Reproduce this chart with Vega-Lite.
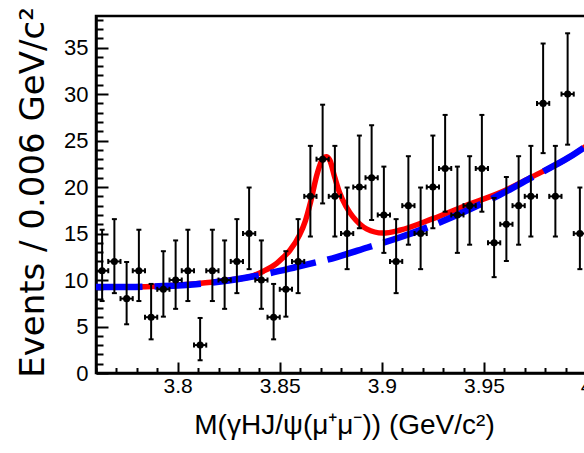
{
  "$schema": "https://vega.github.io/schema/vega-lite/v6.json",
  "width": 490,
  "height": 357,
  "autosize": "none",
  "padding": {"left": 96, "top": 16, "right": -2, "bottom": 80},
  "background": "white",
  "config": {"view": {"stroke": "black", "strokeWidth": 2.5}, "axis": {"grid": false}},
  "datasets": {
    "pts": [
      {"m0": 3.760, "m": 3.763, "m1": 3.766, "n": 11, "nlo": 7.74, "nhi": 15.41},
      {"m0": 3.766, "m": 3.769, "m1": 3.772, "n": 12, "nlo": 8.59, "nhi": 16.55},
      {"m0": 3.772, "m": 3.775, "m1": 3.778, "n": 8, "nlo": 5.24, "nhi": 11.94},
      {"m0": 3.778, "m": 3.781, "m1": 3.784, "n": 11, "nlo": 7.74, "nhi": 15.41},
      {"m0": 3.784, "m": 3.787, "m1": 3.790, "n": 6, "nlo": 3.62, "nhi": 9.58},
      {"m0": 3.790, "m": 3.793, "m1": 3.796, "n": 9, "nlo": 6.06, "nhi": 13.10},
      {"m0": 3.796, "m": 3.799, "m1": 3.802, "n": 10, "nlo": 6.90, "nhi": 14.26},
      {"m0": 3.802, "m": 3.805, "m1": 3.808, "n": 11, "nlo": 7.74, "nhi": 15.41},
      {"m0": 3.808, "m": 3.811, "m1": 3.814, "n": 3, "nlo": 1.37, "nhi": 5.92},
      {"m0": 3.814, "m": 3.817, "m1": 3.820, "n": 11, "nlo": 7.74, "nhi": 15.41},
      {"m0": 3.820, "m": 3.823, "m1": 3.826, "n": 10, "nlo": 6.90, "nhi": 14.26},
      {"m0": 3.826, "m": 3.829, "m1": 3.832, "n": 12, "nlo": 8.59, "nhi": 16.55},
      {"m0": 3.832, "m": 3.835, "m1": 3.838, "n": 15, "nlo": 11.17, "nhi": 19.95},
      {"m0": 3.838, "m": 3.841, "m1": 3.844, "n": 10, "nlo": 6.90, "nhi": 14.26},
      {"m0": 3.844, "m": 3.847, "m1": 3.850, "n": 6, "nlo": 3.62, "nhi": 9.58},
      {"m0": 3.850, "m": 3.853, "m1": 3.856, "n": 9, "nlo": 6.06, "nhi": 13.10},
      {"m0": 3.856, "m": 3.859, "m1": 3.862, "n": 12, "nlo": 8.59, "nhi": 16.55},
      {"m0": 3.862, "m": 3.865, "m1": 3.868, "n": 19, "nlo": 14.68, "nhi": 24.43},
      {"m0": 3.868, "m": 3.871, "m1": 3.874, "n": 23, "nlo": 18.24, "nhi": 28.86},
      {"m0": 3.874, "m": 3.877, "m1": 3.880, "n": 19, "nlo": 14.68, "nhi": 24.43},
      {"m0": 3.880, "m": 3.883, "m1": 3.886, "n": 15, "nlo": 11.17, "nhi": 19.95},
      {"m0": 3.886, "m": 3.889, "m1": 3.892, "n": 20, "nlo": 15.57, "nhi": 25.54},
      {"m0": 3.892, "m": 3.895, "m1": 3.898, "n": 21, "nlo": 16.46, "nhi": 26.65},
      {"m0": 3.898, "m": 3.901, "m1": 3.904, "n": 17, "nlo": 12.92, "nhi": 22.20},
      {"m0": 3.904, "m": 3.907, "m1": 3.910, "n": 12, "nlo": 8.59, "nhi": 16.55},
      {"m0": 3.910, "m": 3.913, "m1": 3.916, "n": 18, "nlo": 13.80, "nhi": 23.32},
      {"m0": 3.916, "m": 3.919, "m1": 3.922, "n": 15, "nlo": 11.17, "nhi": 19.95},
      {"m0": 3.922, "m": 3.925, "m1": 3.928, "n": 20, "nlo": 15.57, "nhi": 25.54},
      {"m0": 3.928, "m": 3.931, "m1": 3.934, "n": 22, "nlo": 17.35, "nhi": 27.76},
      {"m0": 3.934, "m": 3.937, "m1": 3.940, "n": 17, "nlo": 12.92, "nhi": 22.20},
      {"m0": 3.940, "m": 3.943, "m1": 3.946, "n": 18, "nlo": 13.80, "nhi": 23.32},
      {"m0": 3.946, "m": 3.949, "m1": 3.952, "n": 22, "nlo": 17.35, "nhi": 27.76},
      {"m0": 3.952, "m": 3.955, "m1": 3.958, "n": 14, "nlo": 10.31, "nhi": 18.83},
      {"m0": 3.958, "m": 3.961, "m1": 3.964, "n": 16, "nlo": 12.05, "nhi": 21.08},
      {"m0": 3.964, "m": 3.967, "m1": 3.970, "n": 18, "nlo": 13.80, "nhi": 23.32},
      {"m0": 3.970, "m": 3.973, "m1": 3.976, "n": 19, "nlo": 14.68, "nhi": 24.43},
      {"m0": 3.976, "m": 3.979, "m1": 3.982, "n": 29, "nlo": 23.65, "nhi": 35.44},
      {"m0": 3.982, "m": 3.985, "m1": 3.988, "n": 19, "nlo": 14.68, "nhi": 24.43},
      {"m0": 3.988, "m": 3.991, "m1": 3.994, "n": 30, "nlo": 24.56, "nhi": 36.54},
      {"m0": 3.994, "m": 3.997, "m1": 4.000, "n": 15, "nlo": 11.17, "nhi": 19.95}
    ],
    "total": [
      {"m": 3.760, "n": 9.25}, {"m": 3.776, "n": 9.25}, {"m": 3.793, "n": 9.35},
      {"m": 3.809, "n": 9.6}, {"m": 3.825, "n": 10.0}, {"m": 3.836, "n": 10.4},
      {"m": 3.842, "n": 10.95}, {"m": 3.8485, "n": 11.8}, {"m": 3.8515, "n": 12.4},
      {"m": 3.855, "n": 13.2}, {"m": 3.8596, "n": 14.8}, {"m": 3.8626, "n": 16.4},
      {"m": 3.865, "n": 18.3}, {"m": 3.8683, "n": 21.4}, {"m": 3.8712, "n": 23.1},
      {"m": 3.8728, "n": 23.25}, {"m": 3.8745, "n": 22.9}, {"m": 3.877, "n": 21.0},
      {"m": 3.8793, "n": 19.4}, {"m": 3.8828, "n": 17.8}, {"m": 3.8893, "n": 16.0},
      {"m": 3.8925, "n": 15.5}, {"m": 3.9005, "n": 15.05}, {"m": 3.9087, "n": 15.35},
      {"m": 3.925, "n": 16.6}, {"m": 3.942, "n": 18.1}, {"m": 3.958, "n": 19.4},
      {"m": 3.974, "n": 21.15}, {"m": 3.9917, "n": 23.2}, {"m": 4.0, "n": 24.4}
    ],
    "bkg": [
      {"m": 3.760, "n": 9.25}, {"m": 3.776, "n": 9.25}, {"m": 3.793, "n": 9.35},
      {"m": 3.809, "n": 9.55}, {"m": 3.825, "n": 9.95}, {"m": 3.842, "n": 10.6},
      {"m": 3.858, "n": 11.4}, {"m": 3.8776, "n": 12.45}, {"m": 3.893, "n": 13.5},
      {"m": 3.909, "n": 14.6}, {"m": 3.925, "n": 15.9}, {"m": 3.942, "n": 17.5},
      {"m": 3.958, "n": 19.2}, {"m": 3.974, "n": 21.1}, {"m": 3.9917, "n": 23.2},
      {"m": 4.0, "n": 24.4}
    ]
  },
  "encoding": {
    "x": {
      "field": "m", "type": "quantitative",
      "scale": {"domain": [3.76, 4.0], "nice": false, "zero": false},
      "axis": {
        "title": "M(γHJ/ψ(μ⁺μ⁻)) (GeV/c²)",
        "values": [3.76, 3.77, 3.78, 3.79, 3.8, 3.81, 3.82, 3.83, 3.84, 3.85, 3.86, 3.87, 3.88, 3.89, 3.9, 3.91, 3.92, 3.93, 3.94, 3.95, 3.96, 3.97, 3.98, 3.99, 4.0],
        "format": ".2~f",
        "labelExpr": "abs(datum.value*20-round(datum.value*20))<0.000001 ? datum.label : ''",
        "tickSize": {"condition": {"test": "abs(datum.value*20-round(datum.value*20))<0.000001", "value": -11}, "value": -5.5},
        "tickWidth": 2, "tickColor": "black",
        "domainColor": "black", "domainWidth": 2.5,
        "labelFont": "Liberation Sans", "labelFontSize": 21, "labelColor": "black",
        "labelPadding": 13, "labelFlush": false, "labelOverlap": false,
        "titleFont": "Liberation Sans", "titleFontSize": 28, "titleFontWeight": "normal", "titleColor": "black",
        "titleBaseline": "alphabetic", "titleY": 60, "titleX": 248, "titleAlign": "center"
      }
    },
    "y": {
      "field": "n", "type": "quantitative",
      "scale": {"domain": [0, 38.4], "nice": false},
      "axis": {
        "title": "Events / 0.006 GeV/c²",
        "values": [0,1,2,3,4,5,6,7,8,9,10,11,12,13,14,15,16,17,18,19,20,21,22,23,24,25,26,27,28,29,30,31,32,33,34,35,36,37,38],
        "labelExpr": "datum.value % 5 === 0 ? datum.label : ''",
        "tickSize": {"condition": {"test": "datum.value % 5 === 0", "value": -12}, "value": -7},
        "tickWidth": 2, "tickColor": "black",
        "domainColor": "black", "domainWidth": 2.5,
        "labelFont": "Liberation Sans", "labelFontSize": 22, "labelColor": "black",
        "labelPadding": 20, "labelFlush": false, "labelOverlap": false,
        "titleFont": "DejaVu Sans", "titleFontSize": 34, "titleFontWeight": "normal", "titleColor": "black",
        "titleAngle": 270, "titleAlign": "center", "titleBaseline": "alphabetic",
        "titleX": -53, "titleY": 176
      }
    }
  },
  "layer": [
    {"data": {"name": "total"}, "mark": {"type": "line", "color": "#ff0000", "strokeWidth": 5.5, "interpolate": "monotone", "clip": true}, "encoding": {}},
    {"data": {"name": "bkg"}, "mark": {"type": "line", "color": "#0000ff", "strokeWidth": 6.5, "strokeDash": [46.5, 12], "strokeCap": "butt", "interpolate": "monotone", "clip": true}, "encoding": {}},
    {"data": {"name": "pts"}, "mark": {"type": "rule", "color": "black", "strokeWidth": 2}, "encoding": {"y": {"field": "nlo", "type": "quantitative"}, "y2": {"field": "nhi"}}},
    {"data": {"name": "pts"}, "mark": {"type": "rule", "color": "black", "strokeWidth": 2}, "encoding": {"x": {"field": "m0", "type": "quantitative"}, "x2": {"field": "m1"}}},
    {"data": {"name": "pts"}, "mark": {"type": "tick", "orient": "horizontal", "color": "black", "size": 5, "thickness": 2, "opacity": 1}, "encoding": {"y": {"field": "nlo", "type": "quantitative"}}},
    {"data": {"name": "pts"}, "mark": {"type": "tick", "orient": "horizontal", "color": "black", "size": 5, "thickness": 2, "opacity": 1}, "encoding": {"y": {"field": "nhi", "type": "quantitative"}}},
    {"data": {"name": "pts"}, "mark": {"type": "tick", "orient": "vertical", "color": "black", "size": 5, "thickness": 2, "opacity": 1}, "encoding": {"x": {"field": "m0", "type": "quantitative"}}},
    {"data": {"name": "pts"}, "mark": {"type": "tick", "orient": "vertical", "color": "black", "size": 5, "thickness": 2, "opacity": 1}, "encoding": {"x": {"field": "m1", "type": "quantitative"}}},
    {"data": {"name": "pts"}, "mark": {"type": "point", "shape": "circle", "filled": true, "color": "black", "size": 50, "opacity": 1}, "encoding": {}}
  ]
}
